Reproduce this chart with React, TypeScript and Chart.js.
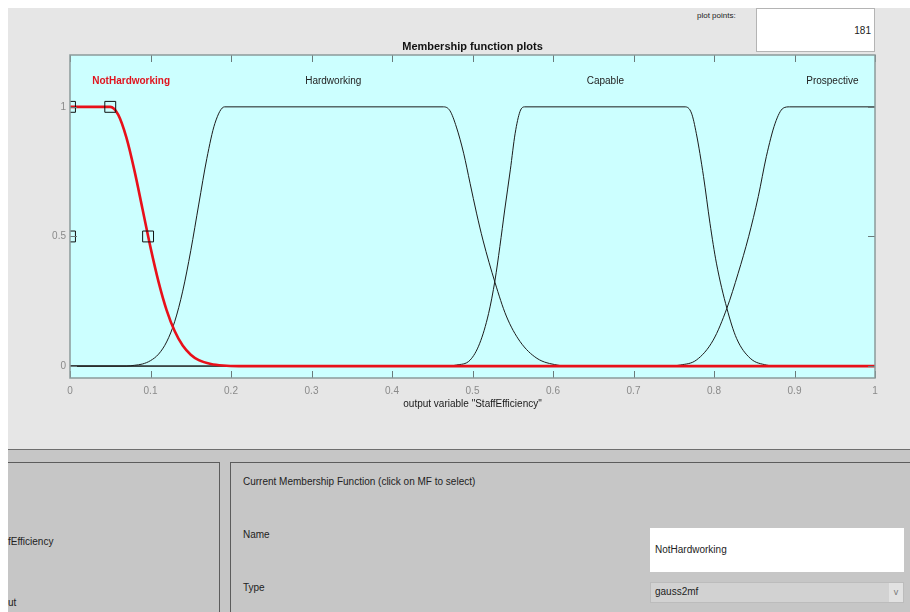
import React, { useEffect, useRef } from 'react';
import { Chart, registerables } from 'chart.js';

Chart.register(...registerables);

const FONT = "'Liberation Sans Narrow', 'Liberation Sans', Arial, sans-serif";

// Axis ticks
const xTicks = [0, 0.1, 0.2, 0.3, 0.4, 0.5, 0.6, 0.7, 0.8, 0.9, 1];
const yTicks = [0, 0.5, 1];

// Membership function names and label anchors
const mfNames = ['NotHardworking', 'Hardworking', 'Capable', 'Prospective'];
const mfLabelX = [0.076, 0.327, 0.665, 0.947];
const mfLabelY = 1.1;

// Curves
const notHardworkingX = [0, 0.05, 0.06, 0.07, 0.08, 0.09, 0.1, 0.11, 0.12, 0.13, 0.14, 0.15, 0.16, 0.175, 0.19, 0.21, 1];
const notHardworkingY = [1, 1, 0.969, 0.882, 0.755, 0.607, 0.458, 0.325, 0.216, 0.135, 0.079, 0.044, 0.023, 0.008, 0.002, 0, 0];

const hardworkingX = [0, 0.07, 0.08, 0.09, 0.1, 0.11, 0.12, 0.13, 0.14, 0.15, 0.16, 0.17, 0.18, 0.192, 0.464, 0.472, 0.48, 0.489, 0.497, 0.505, 0.513, 0.528, 0.542, 0.559, 0.58, 0.605, 0.62, 1];
const hardworkingY = [0, 0, 0.003, 0.008, 0.021, 0.046, 0.093, 0.171, 0.289, 0.445, 0.625, 0.801, 0.936, 1, 1, 0.985, 0.922, 0.821, 0.705, 0.59, 0.486, 0.322, 0.193, 0.095, 0.03, 0.004, 0, 0];

const capableX = [0, 0.465, 0.48, 0.497, 0.509, 0.52, 0.528, 0.534, 0.54, 0.547, 0.553, 0.559, 0.565, 0.764, 0.772, 0.778, 0.787, 0.795, 0.803, 0.816, 0.828, 0.845, 0.865, 0.88, 1];
const capableY = [0, 0, 0.004, 0.023, 0.088, 0.203, 0.332, 0.461, 0.602, 0.757, 0.898, 0.982, 1, 1, 0.976, 0.898, 0.731, 0.551, 0.397, 0.223, 0.107, 0.03, 0.004, 0, 0];

const prospectiveX = [0, 0.745, 0.758, 0.778, 0.799, 0.816, 0.83, 0.843, 0.855, 0.865, 0.876, 0.886, 0.894, 1];
const prospectiveY = [0, 0, 0.004, 0.023, 0.1, 0.223, 0.358, 0.499, 0.654, 0.808, 0.937, 0.995, 1, 1];

// Selected-MF handles
const handleX = [0, 0, 0.05, 0.097];
const handleY = [1, 0.5, 1, 0.5];

const toPts = (xs: number[], ys: number[]) => xs.map((x, i) => ({ x, y: ys[i] }));

const decorPlugin = {
  id: 'mfDecor',
  beforeDatasetsDraw(chart: any) {
    const { ctx, chartArea: a } = chart;
    ctx.save();
    ctx.fillStyle = '#ccffff';
    ctx.fillRect(a.left, a.top, a.right - a.left, a.bottom - a.top);
    ctx.restore();
  },
  afterDatasetsDraw(chart: any) {
    const { ctx, chartArea: a, scales } = chart;
    const xs = scales.x;
    const ys = scales.y;
    ctx.save();
    // inward ticks
    ctx.strokeStyle = '#6a7a7a';
    ctx.lineWidth = 1;
    const tl = 7;
    ctx.beginPath();
    xTicks.forEach((v) => {
      const px = Math.round(xs.getPixelForValue(v)) + 0.5;
      ctx.moveTo(px, a.top);
      ctx.lineTo(px, a.top + tl);
      ctx.moveTo(px, a.bottom);
      ctx.lineTo(px, a.bottom - tl);
    });
    yTicks.forEach((v) => {
      const py = Math.round(ys.getPixelForValue(v)) + 0.5;
      ctx.moveTo(a.left, py);
      ctx.lineTo(a.left + tl, py);
      ctx.moveTo(a.right, py);
      ctx.lineTo(a.right - tl, py);
    });
    ctx.stroke();
    // frame
    ctx.strokeStyle = '#8c9a9a';
    ctx.lineWidth = 1.5;
    ctx.strokeRect(a.left, a.top, a.right - a.left, a.bottom - a.top);
    // MF labels
    ctx.textAlign = 'center';
    ctx.textBaseline = 'middle';
    mfNames.forEach((name, i) => {
      const selected = i === 0;
      ctx.font = `${selected ? 'bold ' : ''}10px ${FONT}`;
      ctx.fillStyle = selected ? '#e0141e' : '#222222';
      ctx.fillText(name, xs.getPixelForValue(mfLabelX[i]), ys.getPixelForValue(mfLabelY));
    });
    // plot title
    ctx.font = `bold 11px ${FONT}`;
    ctx.fillStyle = '#111111';
    ctx.fillText('Membership function plots', (a.left + a.right) / 2, 47);
    ctx.restore();
  },
};

function MfChart() {
  const ref = useRef<HTMLCanvasElement | null>(null);
  useEffect(() => {
    if (!ref.current) return;
    const black = '#1c1c1c';
    const lineDs = (label: string, xs: number[], ys: number[], color: string, width: number) => ({
      label,
      data: toPts(xs, ys),
      borderColor: color,
      borderWidth: width,
      pointRadius: 0,
      fill: false,
      cubicInterpolationMode: 'monotone' as const,
    });
    const chart = new Chart(ref.current, {
      type: 'line',
      data: {
        datasets: [
          {
            label: 'handles',
            data: toPts(handleX, handleY),
            showLine: false,
            pointStyle: 'rect',
            pointRadius: 7.7,
            pointBorderColor: '#111111',
            pointBackgroundColor: 'rgba(0,0,0,0)',
            pointBorderWidth: 1,
            clip: 0,
          } as any,
          lineDs(mfNames[0], notHardworkingX, notHardworkingY, '#e8101a', 2.6),
          lineDs(mfNames[1], hardworkingX, hardworkingY, black, 1),
          lineDs(mfNames[2], capableX, capableY, black, 1),
          lineDs(mfNames[3], prospectiveX, prospectiveY, black, 1),
        ],
      },
      options: {
        animation: false,
        responsive: false,
        maintainAspectRatio: false,
        layout: { padding: { left: 38, right: 35, top: 55, bottom: 31 } },
        plugins: {
          legend: { display: false },
          tooltip: { enabled: false },
          title: { display: false },
        },
        scales: {
          x: {
            type: 'linear',
            min: 0,
            max: 1,
            position: 'bottom',
            grid: { display: false, drawTicks: false, tickLength: 0 },
            border: { display: false },
            afterBuildTicks: (s: any) => {
              s.ticks = xTicks.map((v) => ({ value: v }));
            },
            afterFit: (s: any) => {
              s.height = 40;
            },
            ticks: {
              color: '#8a8a8a',
              font: { family: FONT, size: 10 },
              padding: 7,
              maxRotation: 0,
              autoSkip: false,
              callback: (v: any) => String(v),
            },
            title: {
              display: true,
              text: 'output variable "StaffEfficiency"',
              color: '#1a1a1a',
              font: { family: FONT, size: 10 },
              padding: { top: 0, bottom: 8 },
            },
          },
          y: {
            type: 'linear',
            min: -0.046,
            max: 1.2,
            grid: { display: false, drawTicks: false, tickLength: 0 },
            border: { display: false },
            afterBuildTicks: (s: any) => {
              s.ticks = yTicks.map((v) => ({ value: v }));
            },
            afterFit: (s: any) => {
              s.width = 32;
            },
            ticks: {
              color: '#8a8a8a',
              font: { family: FONT, size: 10 },
              padding: 4,
              callback: (v: any) => String(v),
            },
          },
        },
      } as any,
      plugins: [decorPlugin],
    });
    return () => chart.destroy();
  }, []);
  return <canvas ref={ref} width={910} height={449} style={{ position: 'absolute', left: 0, top: 0, width: 910, height: 449 }} />;
}

const abs = (s: React.CSSProperties): React.CSSProperties => ({ position: 'absolute', ...s });

export default function App() {
  const txt: React.CSSProperties = { fontSize: 10, color: '#222', whiteSpace: 'nowrap', lineHeight: '12px' };
  return (
    <div style={abs({ left: 0, top: 0, width: 910, height: 612, background: '#ffffff', overflow: 'hidden', fontFamily: FONT })}>
      <div style={abs({ left: 8, top: 8, width: 902, height: 441, background: '#e6e6e6' })} />
      <div style={abs({ left: 8, top: 449, width: 902, height: 163, background: '#c6c6c6', borderTop: '1px solid #6e6e6e' })} />
      {/* lower panels */}
      <div style={abs({ left: 8, top: 462, width: 211, height: 170, borderTop: '1px solid #5c5c5c', borderRight: '1px solid #5c5c5c' })} />
      <div style={abs({ left: 230, top: 462, width: 700, height: 170, borderTop: '1px solid #5c5c5c', borderLeft: '1px solid #5c5c5c' })} />
      <div style={abs({ ...txt, left: 8, top: 536 })}>fEfficiency</div>
      <div style={abs({ ...txt, left: 8, top: 597 })}>ut</div>
      <div style={abs({ ...txt, left: 243, top: 476 })}>Current Membership Function (click on MF to select)</div>
      <div style={abs({ ...txt, left: 243, top: 529 })}>Name</div>
      <div style={abs({ ...txt, left: 243, top: 582 })}>Type</div>
      <div style={abs({ left: 650, top: 528, width: 254, height: 44, background: '#ffffff' })} />
      <div style={abs({ ...txt, left: 655, top: 544 })}>NotHardworking</div>
      <div style={abs({ left: 650, top: 582, width: 252, height: 19, background: '#d2d2d2', border: '1px solid #bcbcbc' })} />
      <div style={abs({ left: 889, top: 583, width: 14, height: 19, background: '#e2e2e2', color: '#777', fontSize: 9, lineHeight: '19px', textAlign: 'center' })}>v</div>
      <div style={abs({ ...txt, left: 655, top: 586 })}>gauss2mf</div>
      {/* plot points box */}
      <div style={abs({ ...txt, fontSize: 8, left: 697, top: 10 })}>plot points:</div>
      <div style={abs({ left: 756, top: 8, width: 117, height: 42, background: '#ffffff', border: '1px solid #b4b4b4' })} />
      <div style={abs({ ...txt, left: 800, width: 71, top: 25, textAlign: 'right' })}>181</div>
      <MfChart />
    </div>
  );
}
